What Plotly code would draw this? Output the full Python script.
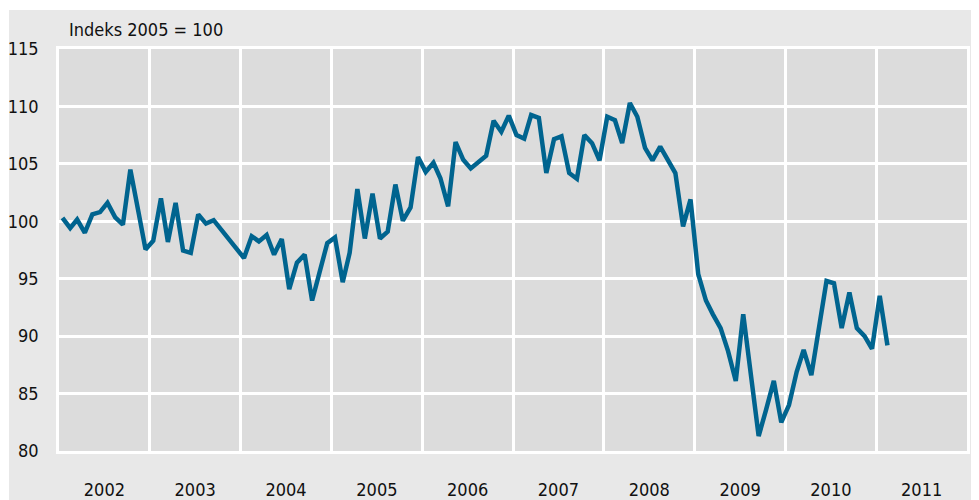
import pandas as pd
import plotly.graph_objects as go

# Monthly index, Jan 2002 - Feb 2011 (2005 = 100)
start_month = "2002-01"
values = [
    100.3, 99.4, 100.15, 99.0, 100.6, 100.8, 101.6, 100.35, 99.7, 104.5, 101.0, 97.55,   # 2002
    98.3, 102.0, 98.2, 101.6, 97.45, 97.25, 100.6, 99.8, 100.1, 99.3, 98.55, 97.7,      # 2003
    96.8, 98.7, 98.25, 98.8, 97.1, 98.45, 94.1, 96.4, 97.1, 93.1, 95.6, 98.1,           # 2004
    98.6, 94.7, 97.25, 102.8, 98.5, 102.4, 98.5, 99.1, 103.2, 100.05, 101.2, 105.6,     # 2005
    104.3, 105.1, 103.75, 101.3, 106.9, 105.35, 104.6, 105.2, 105.7, 108.75, 107.8, 109.2,  # 2006
    107.5, 107.2, 109.25, 109.0, 104.2, 107.15, 107.4, 104.2, 103.7, 107.5, 106.8, 105.3,   # 2007
    109.1, 108.8, 106.8, 110.3, 109.1, 106.4, 105.3, 106.5, 105.4, 104.2, 99.55, 101.9,    # 2008
    95.4, 93.1, 91.9, 90.7, 88.7, 86.1, 91.9, 86.5, 81.3, 83.6, 86.1, 82.5,             # 2009
    84.0, 86.9, 88.8, 86.6, 90.7, 94.8, 94.6, 90.7, 93.8, 90.7, 90.0, 88.9,             # 2010
    93.5, 89.2,                                                                         # 2011
]
x_range = ["2002-01-01", "2012-01-01"]
y_range = [80, 115]
y_title = "Indeks 2005 = 100"

dates = pd.date_range(start_month, periods=len(values), freq="MS") + pd.Timedelta(days=14)

FONT = "DejaVu Sans Condensed, Liberation Sans Narrow, Arial Narrow, sans-serif"

# page body has an 8px margin: figure origin sits at (8, 8)
fig = go.Figure()
fig.add_trace(go.Scatter(
    x=dates, y=values, mode="lines",
    line=dict(color="#00648f", width=4.5),
    hoverinfo="skip", showlegend=False,
))

fig.update_layout(
    width=971, height=492,
    margin=dict(l=51, r=12, t=41, b=49, autoexpand=False),
    paper_bgcolor="#e8e8e8",
    plot_bgcolor="#dcdcdc",
    font=dict(family=FONT, size=18, color="#111111"),
    showlegend=False,
    xaxis=dict(
        type="date", range=x_range, dtick="M12", tick0="2002-01-01",
        ticklabelmode="period", tickformat="%Y",
        showgrid=True, gridcolor="white", gridwidth=2.5,
        ticks="outside", ticklen=21, tickcolor="rgba(0,0,0,0)",
        showline=True, linecolor="white", linewidth=2.5, mirror=True,
        zeroline=False, fixedrange=True, automargin=False,
    ),
    yaxis=dict(
        range=y_range, dtick=5, tick0=80,
        showgrid=True, gridcolor="white", gridwidth=2.5,
        ticks="outside", ticklen=14, tickcolor="rgba(0,0,0,0)",
        showline=True, linecolor="white", linewidth=2.5, mirror=True,
        zeroline=False, fixedrange=True, automargin=False,
    ),
    annotations=[dict(
        text=y_title, xref="paper", yref="paper",
        x=(67 - 59) / 908, y=(451 - 29) / 402,
        xanchor="left", yanchor="middle", showarrow=False,
        font=dict(family=FONT, size=18, color="#111111"),
    )],
    shapes=[
        # thin white edge strips (top and left)
        dict(type="rect", xref="paper", yref="paper", layer="below",
             x0=-0.1, x1=1.1, y0=(451 - 10) / 402, y1=1.2,
             fillcolor="white", line=dict(width=0)),
        dict(type="rect", xref="paper", yref="paper", layer="below",
             x0=-0.1, x1=(9 - 59) / 908, y0=-0.2, y1=1.2,
             fillcolor="white", line=dict(width=0)),
    ],
)

fig.write_html("out.html")
